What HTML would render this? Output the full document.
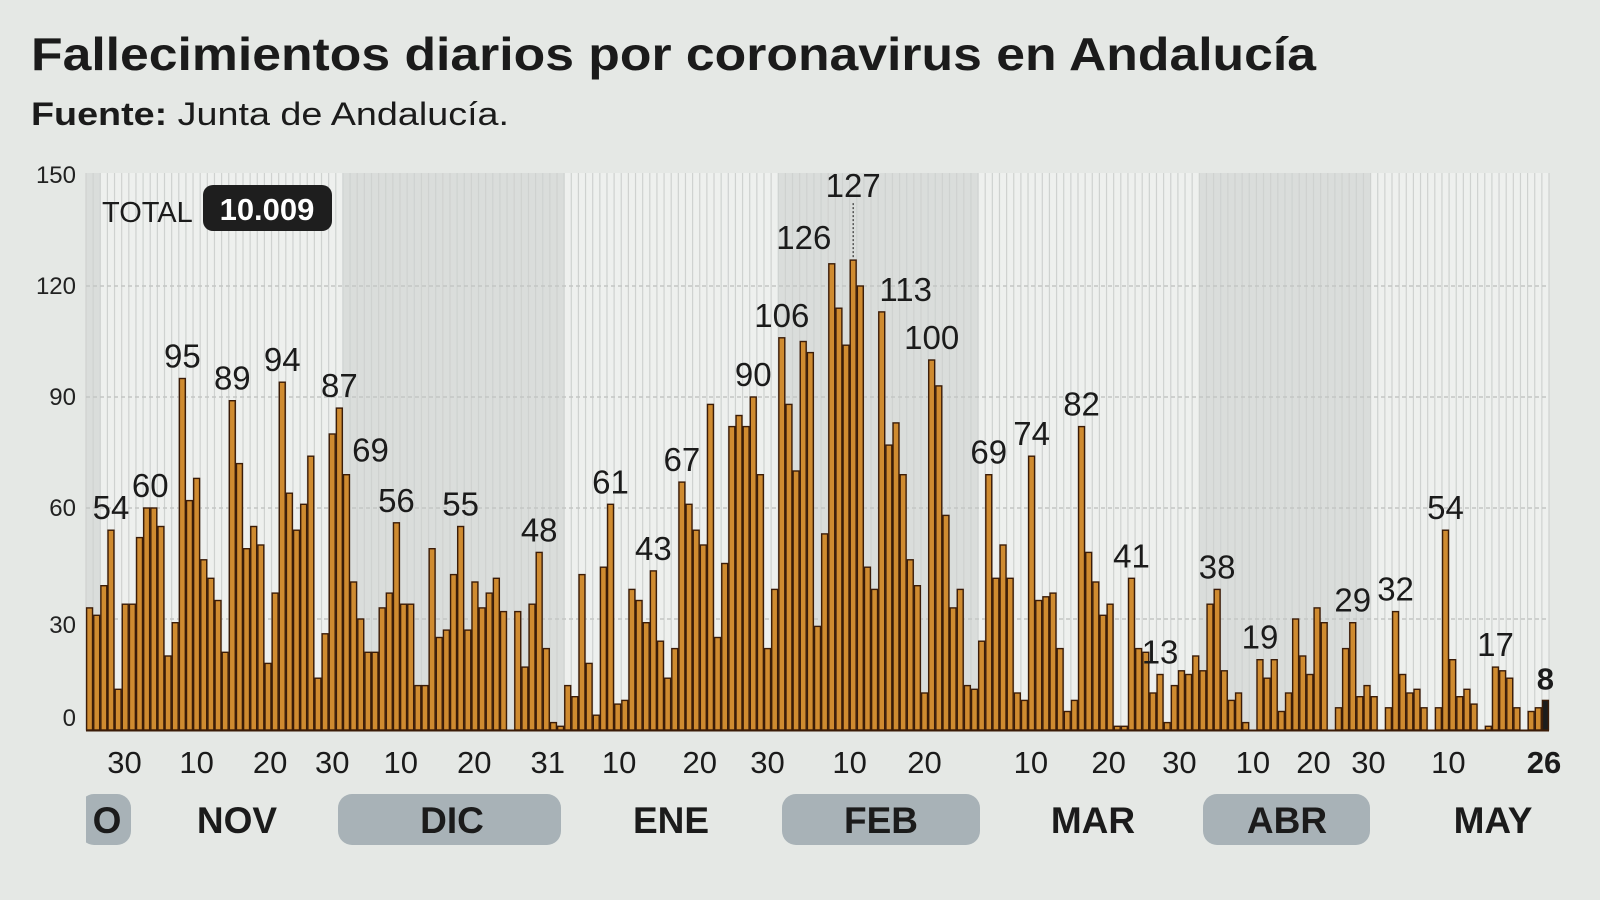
<!DOCTYPE html>
<html><head><meta charset="utf-8"><style>
html,body{margin:0;padding:0;background:#e5e8e5;}
svg{display:block;font-family:"Liberation Sans",sans-serif;}
</style></head><body>
<svg id="chart" width="1600" height="900" viewBox="0 0 1600 900" xmlns="http://www.w3.org/2000/svg">
<rect x="0" y="0" width="1600" height="900" fill="#e5e8e5"/>
<text x="31" y="70" font-size="46" font-weight="bold" fill="#1b1b1b" textLength="1285" lengthAdjust="spacingAndGlyphs">Fallecimientos diarios por coronavirus en Andalucía</text>
<text x="31" y="125" font-size="32" fill="#1b1b1b" textLength="478" lengthAdjust="spacingAndGlyphs"><tspan font-weight="bold">Fuente:</tspan> Junta de Andalucía.</text>
<g id="bands"></g>
<g id="grid"></g>
<g id="bars"></g>
<g id="labels"></g>
<g id="axis"></g>
<text x="102" y="222" font-size="29" fill="#1b1b1b">TOTAL</text>
<rect x="203" y="185" width="129" height="46" rx="10" fill="#1e1e1e"/>
<text x="267" y="220" font-size="31" font-weight="bold" fill="#ffffff" text-anchor="middle">10.009</text>
</svg>
<script>
const values = [33,31,39,54,11,34,34,52,60,60,55,20,29,95,62,68,46,41,35,21,89,72,49,55,50,18,37,94,64,54,61,74,14,26,80,87,69,40,30,21,21,
33,37,56,34,34,12,12,49,25,27,42,55,27,40,33,37,41,32,null,32,17,34,48,22,2,1,12,9,42,18,4,44,61,7,8,38,35,29,43,24,14,22,
67,61,54,50,88,25,45,82,85,82,90,69,22,38,106,88,70,105,102,28,53,126,114,104,127,120,44,38,113,77,83,69,46,39,10,100,93,58,33,38,
12,11,24,69,41,50,41,10,8,74,35,36,37,22,5,8,82,48,40,31,34,1,1,41,22,21,10,15,2,12,16,15,20,16,34,38,16,8,10,2,
null,19,14,19,5,10,30,20,15,33,29,null,6,22,29,9,12,9,null,6,32,15,10,11,6,null,6,54,19,9,11,7,null,1,17,16,14,6,null,5,6,8];
const yTicks = [0,30,60,90,120,150];
const xTickLabels = ["30","10","20","30","10","20","31","10","20","30","10","20","10","20","30","10","20","30","10","26"];
const xTickPos = [4.9,15,25.3,34,43.6,53.9,64.2,74.2,85.5,95,106.5,117,131.9,142.8,152.7,163,171.5,179.2,190.4,203.8];
const months = ["O","NOV","DIC","ENE","FEB","MAR","ABR","MAY"];
const monthStart = [0,2,36,67,97,125,156,180];
const monthEnd = [2,36,67,97,125,156,180,205];
const monthShaded = [true,false,true,false,true,false,true,false];
const labelIdx = [3,8,13,20,27,35,36,43,52,63,73,79,83,93,97,104,107,111,118,126,132,139,146,150,158,164,177,183,190,197,204];
const labelText = ["54","60","95","89","94","87","69","56","55","48","61","43","67","90","106","126","127","113","100","69","74","82","41","13","38","19","29","32","54","17","8"];

const NS="http://www.w3.org/2000/svg";
const X0=86, X1=1549, N=values.length, P=(X1-X0)/N;
function x(i){return X0+i*P;}
function y(v){return 730-v*3.7;}
function mk(tag,attrs,parent,txt){const e=document.createElementNS(NS,tag);for(const k in attrs)e.setAttribute(k,attrs[k]);if(txt!==undefined)e.textContent=txt;parent.appendChild(e);return e;}
const bands=document.getElementById('bands'),grid=document.getElementById('grid'),bars=document.getElementById('bars'),labels=document.getElementById('labels'),axis=document.getElementById('axis');
const TOP=y(150)-2;
for(let m=0;m<months.length;m++){
  const r=mk('rect',{x:x(monthStart[m]),y:TOP,width:x(monthEnd[m])-x(monthStart[m]),height:730-TOP,fill:monthShaded[m]?'#dadddb':'#eef0ee'},bands);
  
  
}
for(let i=0;i<=N;i++){
  const l=mk('line',{x1:x(i),x2:x(i),y1:TOP,y2:730,stroke:'#cfd2d0','stroke-width':1.2},bands);
  
  
}
yTicks.forEach(v=>{
  if(v>0&&v<150){const g=mk('line',{x1:X0,x2:X1,y1:y(v),y2:y(v),stroke:'#c3c6c4','stroke-width':1.5,'stroke-dasharray':'4 3'},grid);
  
  }
  const dy = v===0?-4:(v===30?14:8);
  const t=mk('text',{x:76,y:y(v)+dy,'font-size':24,fill:'#222','text-anchor':'end'},axis,String(v));
  
  
});
values.forEach((v,i)=>{
  if(v===null)return;
  const last=i===N-1;
  const b=mk('rect',{x:x(i)+0.6,y:y(v),width:P-1.2,height:730-y(v),fill:last?'#1c1c1c':'#cf8b30',stroke:'#3b1c08','stroke-width':1.4},bars);
  
  
});
const base=mk('line',{x1:X0,x2:X1,y1:730.5,y2:730.5,stroke:'#3b1c08','stroke-width':2},bars);


labelIdx.forEach((idx,k)=>{
  const v=values[idx]; let cx=x(idx)+P/2, by=y(v)-11;
  const txt=labelText[k]; let dx=0,dy=0;
  if(txt==="60"&&k===1){dx=P/2;}
  if(txt==="69"&&k===6){dx=24;dy=-2;}
  if(txt==="126"){dx=-28;dy=-4;}
  if(txt==="113"){dx=24;}
  if(txt==="127"){dy=-52;
    const d=mk('line',{x1:cx,x2:cx,y1:by+dy+6,y2:y(v)-2,stroke:'#333','stroke-width':1.2,'stroke-dasharray':'2 2'},labels);
    
    }
  const bold=idx===N-1;
  const t=mk('text',{x:cx+dx,y:by+dy,'font-size':bold?31:33,'font-weight':bold?'bold':'normal',fill:'#1b1b1b','text-anchor':'middle'},labels,txt);
  
  
});
xTickLabels.forEach((s,k)=>{
  const last=k===xTickLabels.length-1;
  const t=mk('text',{x:x(xTickPos[k])+P/2,y:773,'font-size':31,'font-weight':last?'bold':'normal',fill:'#1b1b1b','text-anchor':'middle'},axis,s);
  
  
});
const pillX=[[80,131],null,[338,561],null,[782,980],null,[1203,1370],null];
const monthCx=[107,237,452,671,881,1093,1287,1493];
months.forEach((m,k)=>{
  if(pillX[k]){const p=mk('rect',{x:pillX[k][0],y:794,width:pillX[k][1]-pillX[k][0],height:51,rx:14,fill:'#a8b2b7'},axis);
  
  }
  const t=mk('text',{x:monthCx[k],y:833,'font-size':37,'font-weight':'bold',fill:'#1b1b1b','text-anchor':'middle'},axis,m);
  
  
});
const cover=mk('rect',{x:60,y:790,width:26,height:60,fill:'#e5e8e5'},axis);


</script>
</body></html>
